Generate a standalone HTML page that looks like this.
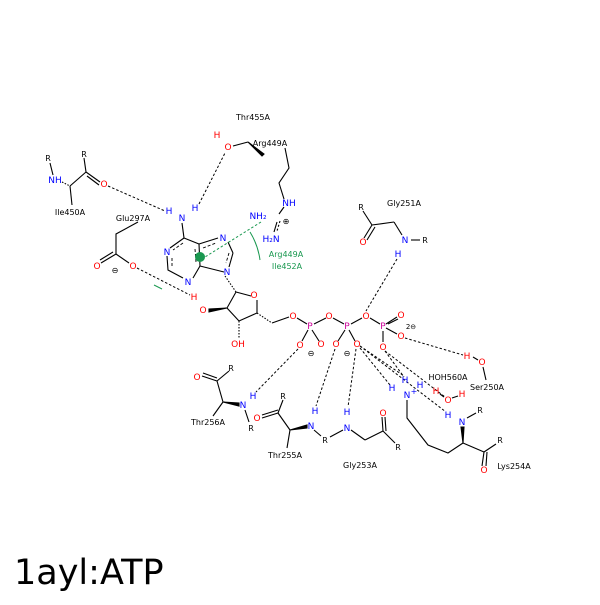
<!DOCTYPE html>
<html><head><style>
html,body{margin:0;padding:0;background:#fff;}
svg text{font-family:"DejaVu Sans","Liberation Sans",sans-serif;}
</style></head><body>
<svg width="600" height="600" viewBox="0 0 600 600" xmlns="http://www.w3.org/2000/svg">
<rect width="600" height="600" fill="#fff"/>
<g stroke="#000" stroke-width="1.1" fill="none">
<line x1="233" y1="146" x2="248" y2="142"/>
<polygon points="248,142 262,156 264,154" fill="#000"/>
<polyline points="285,148 289,168 279,183 284,199"/>
<line x1="284" y1="207" x2="279" y2="214"/>
<line x1="277" y1="222" x2="274" y2="232"/>
<line x1="280" y1="221" x2="277" y2="231" stroke-dasharray="2,2"/>
<line x1="50" y1="163" x2="53" y2="175"/>
<line x1="84" y1="158" x2="86" y2="172"/>
<line x1="86" y1="172" x2="100" y2="182"/>
<line x1="87" y1="176" x2="99" y2="185"/>
<line x1="86" y1="172" x2="70" y2="186"/>
<line x1="62" y1="182" x2="70" y2="186" stroke-dasharray="1.5,1.5"/>
<line x1="70" y1="186" x2="72" y2="205"/>
<line x1="182" y1="223" x2="184" y2="238"/>
<polyline points="184,238 170,248"/>
<polyline points="167,256 168,270 183,278"/>
<polyline points="193,278 200,266 199,244 184,238"/>
<line x1="199" y1="244" x2="218" y2="238"/>
<line x1="228" y1="242" x2="233" y2="253"/>
<line x1="233" y1="253" x2="229" y2="267"/>
<line x1="224" y1="272" x2="200" y2="266"/>
<g stroke-dasharray="3,2" stroke-width="0.9">
<line x1="183" y1="243" x2="173" y2="250"/>
<line x1="172" y1="258" x2="172" y2="268"/>
<line x1="195" y1="249" x2="196" y2="262"/>
<line x1="229" y1="253" x2="226" y2="263"/>
<line x1="203" y1="248" x2="216" y2="243"/>
</g>
<line x1="225" y1="276" x2="236" y2="292" stroke-dasharray="1.5,1.5"/>
<polyline points="236,292 251,296"/>
<polyline points="257,300 257,313 239,321 227,308 236,292"/>
<polygon points="227,308 209,309 209,312" fill="#000"/>
<line x1="239" y1="321" x2="239" y2="338" stroke-dasharray="1.5,1.5"/>
<line x1="257" y1="313" x2="272" y2="323" stroke-dasharray="1.5,1.5"/>
<line x1="272" y1="323" x2="289" y2="317"/>
<polyline points="138,222 116,234 116,254"/>
<line x1="116" y1="254" x2="101" y2="263"/>
<line x1="113" y1="252" x2="100" y2="260"/>
<line x1="116" y1="254" x2="129" y2="263"/>
<line x1="297" y1="318" x2="307" y2="324"/>
<line x1="314" y1="324" x2="326" y2="318"/>
<line x1="333" y1="318" x2="344" y2="324"/>
<line x1="351" y1="324" x2="362" y2="318"/>
<line x1="370" y1="318" x2="380" y2="324"/>
<line x1="308" y1="330" x2="302" y2="341"/>
<line x1="312" y1="330" x2="319" y2="341"/>
<line x1="345" y1="330" x2="338" y2="341"/>
<line x1="349" y1="330" x2="355" y2="341"/>
<line x1="386" y1="324" x2="397" y2="317"/>
<line x1="386" y1="328" x2="397" y2="334"/>
<line x1="388" y1="324" x2="398" y2="319"/>
<line x1="383" y1="331" x2="383" y2="342"/>
<line x1="363" y1="211" x2="372" y2="225"/>
<line x1="372" y1="225" x2="394" y2="222"/>
<line x1="372" y1="225" x2="364" y2="238"/>
<line x1="375" y1="227" x2="367" y2="240"/>
<line x1="394" y1="222" x2="402" y2="235"/>
<line x1="411" y1="240" x2="420" y2="240"/>
<line x1="483" y1="367" x2="486" y2="380"/>
<line x1="473" y1="357" x2="478" y2="360"/>
<line x1="440" y1="394" x2="444" y2="397"/>
<line x1="452" y1="398" x2="458" y2="396"/>
<polyline points="407,400 407,418 428,445 448,453 463,443"/>
<polygon points="463,443 461,427 464,427" fill="#000"/>
<line x1="463" y1="443" x2="484" y2="452"/>
<line x1="484" y1="452" x2="496" y2="444"/>
<line x1="484" y1="452" x2="482" y2="466"/>
<line x1="487" y1="452" x2="486" y2="466"/>
<line x1="467" y1="418" x2="476" y2="413"/>
<line x1="351" y1="430" x2="365" y2="440"/>
<line x1="365" y1="440" x2="383" y2="431"/>
<line x1="383" y1="431" x2="382" y2="417"/>
<line x1="386" y1="431" x2="385" y2="417"/>
<line x1="383" y1="431" x2="395" y2="443"/>
<line x1="343" y1="430" x2="330" y2="437"/>
<line x1="314" y1="430" x2="321" y2="436"/>
<polygon points="290,430 307,425 307,428" fill="#000"/>
<line x1="290" y1="430" x2="278" y2="413"/>
<line x1="278" y1="413" x2="262" y2="418"/>
<line x1="278" y1="410" x2="262" y2="415"/>
<line x1="278" y1="413" x2="283" y2="400"/>
<line x1="290" y1="430" x2="287" y2="448"/>
<polygon points="223,402 239,403 239,406" fill="#000"/>
<line x1="223" y1="402" x2="217" y2="381"/>
<line x1="217" y1="381" x2="202" y2="376"/>
<line x1="217" y1="378" x2="203" y2="373"/>
<line x1="217" y1="381" x2="229" y2="371"/>
<line x1="223" y1="402" x2="213" y2="416"/>
<line x1="245" y1="410" x2="249" y2="422"/>
</g>
<g stroke="#000" stroke-width="1" stroke-dasharray="2.5,2" fill="none">
<line x1="108" y1="186" x2="165" y2="211"/>
<line x1="199" y1="204" x2="225" y2="153"/>
<line x1="137" y1="268" x2="190" y2="295"/>
<line x1="397" y1="259" x2="366" y2="311"/>
<line x1="298" y1="349" x2="256" y2="392"/>
<line x1="335" y1="349" x2="316" y2="406"/>
<line x1="356" y1="349" x2="348" y2="407"/>
<line x1="360" y1="348" x2="390" y2="385"/>
<line x1="360" y1="346" x2="404" y2="376"/>
<line x1="360" y1="346" x2="446" y2="412"/>
<line x1="385" y1="351" x2="404" y2="377"/>
<line x1="385" y1="351" x2="445" y2="397"/>
<line x1="405" y1="338" x2="463" y2="355"/>
</g>
<g stroke="#1a9850" stroke-width="1" fill="none">
<line x1="261" y1="222" x2="205" y2="257" stroke-dasharray="2.5,2"/>
<path d="M250,232 Q258,245 260,260"/>
<line x1="154" y1="285" x2="162" y2="289"/>
</g>
<circle cx="200" cy="257" r="5" fill="#1a9850"/>
<g font-size="8" fill="#000" text-anchor="middle">
<text x="253" y="120">Thr455A</text>
<text x="270" y="146">Arg449A</text>
<text x="70" y="215">Ile450A</text>
<text x="133" y="221">Glu297A</text>
<text x="404" y="206">Gly251A</text>
<text x="208" y="425">Thr256A</text>
<text x="285" y="458">Thr255A</text>
<text x="360" y="468">Gly253A</text>
<text x="514" y="469">Lys254A</text>
<text x="448" y="380">HOH560A</text>
<text x="487" y="390">Ser250A</text>
<text x="48" y="161">R</text><text x="84" y="157">R</text>
<text x="361" y="210">R</text><text x="425" y="243">R</text>
<text x="231" y="371">R</text><text x="251" y="431">R</text>
<text x="283" y="399">R</text><text x="325" y="443">R</text>
<text x="398" y="450">R</text><text x="480" y="413">R</text><text x="500" y="443">R</text>
<text x="115" y="273">⊖</text><text x="311" y="356">⊖</text><text x="347" y="356">⊖</text>
<text x="286" y="224">⊕</text><text x="411" y="329" font-size="7">2⊖</text>
</g>
<g font-size="8" fill="#1a9850" text-anchor="middle">
<text x="286" y="257">Arg449A</text><text x="287" y="269">Ile452A</text>
</g>
<g font-size="9" fill="#0000ff" text-anchor="middle">
<text x="55" y="183">NH</text>
<text x="169" y="214">H</text><text x="182" y="221">N</text><text x="195" y="211">H</text>
<text x="289" y="206">NH</text><text x="258" y="219">NH₂</text><text x="271" y="242">H₂N</text>
<text x="167" y="255">N</text><text x="188" y="285">N</text><text x="223" y="241">N</text><text x="227" y="275">N</text>
<text x="405" y="243">N</text><text x="398" y="257">H</text>
<text x="392" y="391">H</text><text x="407" y="398">N</text><text x="405" y="383">H</text><text x="420" y="388">H</text><text x="414" y="394" font-size="8">+</text>
<text x="448" y="418">H</text><text x="462" y="425">N</text>
<text x="347" y="431">N</text><text x="347" y="415">H</text>
<text x="311" y="429">N</text><text x="315" y="414">H</text>
<text x="243" y="408">N</text><text x="253" y="399">H</text>
</g>
<g font-size="9" fill="#ff0000" text-anchor="middle">
<text x="217" y="138">H</text><text x="228" y="150">O</text>
<text x="104" y="187">O</text>
<text x="97" y="269">O</text><text x="133" y="269">O</text>
<text x="194" y="300">H</text><text x="203" y="313">O</text>
<text x="238" y="347">OH</text><text x="254" y="298">O</text>
<text x="293" y="319">O</text><text x="329" y="319">O</text><text x="366" y="319">O</text>
<text x="300" y="348">O</text><text x="321" y="347">O</text><text x="336" y="347">O</text><text x="357" y="347">O</text>
<text x="401" y="318">O</text><text x="401" y="339">O</text><text x="383" y="350">O</text>
<text x="363" y="245">O</text>
<text x="467" y="359">H</text><text x="482" y="365">O</text>
<text x="436" y="394">H</text><text x="448" y="403">O</text><text x="462" y="397">H</text>
<text x="484" y="473">O</text><text x="383" y="416">O</text><text x="257" y="421">O</text><text x="197" y="380">O</text>
</g>
<g font-size="9" fill="#cc0099" text-anchor="middle">
<text x="310" y="329">P</text><text x="347" y="329">P</text><text x="383" y="329">P</text>
</g>
<text x="14" y="584" font-size="35" fill="#000">1ayl:ATP</text>
</svg>
</body></html>
